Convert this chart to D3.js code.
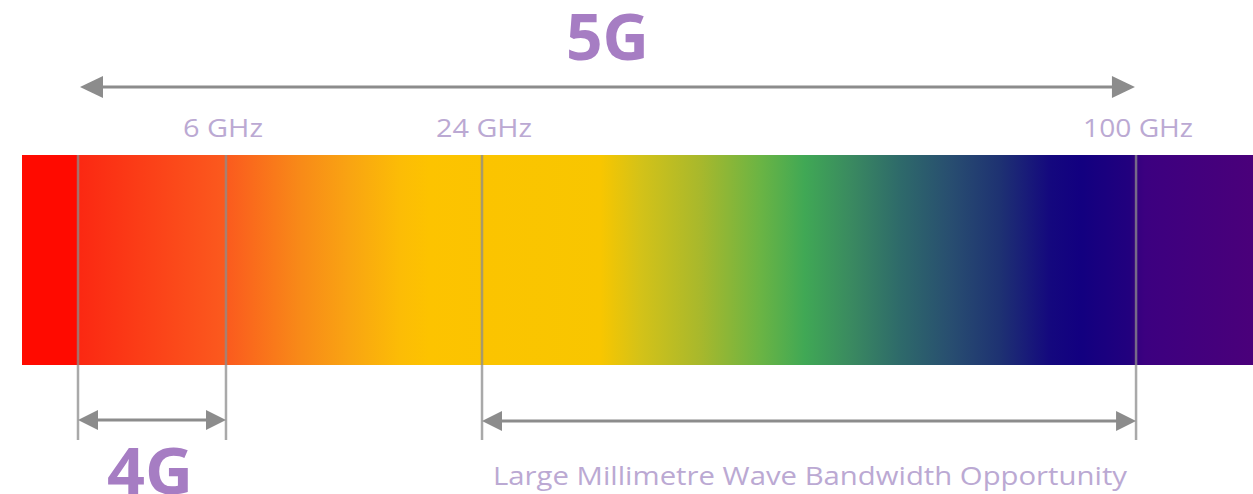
<!DOCTYPE html>
<html>
<head>
<meta charset="utf-8">
<script src="https://cdn.jsdelivr.net/npm/d3@7"></script>
<style>
  body { margin: 0; background: #fff; overflow: hidden; }
  svg { display: block; font-family: "Open Sans", sans-serif; }
</style>
</head>
<body>
<div id="chart"></div>
<script>
// position along the spectrum bar, 0 = left end, 100 = right end
const stopPos = [0, 4.55, 4.6, 16.57, 22.6, 26.6, 30.7, 33.1, 47.0, 50.2, 55.1, 60.0, 63.6, 67.3, 71.3, 75.4, 79.4, 83.5, 86.0, 90.0, 90.5, 91.2, 100];
const stopColors = ["#ff0a00", "#ff0a00", "#fb2812", "#fb5a1e", "#f88a18", "#f9a412", "#fcbc06", "#fdc300", "#f8c600", "#d4c218", "#a8b82c", "#6ab444", "#40a855", "#3a8a60", "#2e6a6a", "#284e70", "#1e3272", "#14087e", "#120080", "#22007e", "#34007e", "#3c0080", "#4a007a"];

// frequency markers
const markerPos = [4.55, 16.57, 37.37, 90.5];
const markerLabels = ["", "6 GHz", "24 GHz", "100 GHz"];

// bands drawn as double arrows
const bandNames = ["5G", "4G", "Large Millimetre Wave Bandwidth Opportunity"];
const bandFrom = [4.71, 4.55, 37.37];
const bandTo = [90.41, 16.57, 90.5];

const width = 1253, height = 494;
const barTop = 155, barBottom = 365;
const grey = "#8c8c8c";

const svg = d3.select("#chart")
  .append("svg")
  .attr("width", width)
  .attr("height", height);

const x = d3.scaleLinear().domain([0, 100]).range([22, 1253]);

// gradient for the spectrum
const grad = svg.append("defs")
  .append("linearGradient")
  .attr("id", "spectrum")
  .attr("gradientUnits", "userSpaceOnUse")
  .attr("x1", x(0)).attr("x2", x(100))
  .attr("y1", 0).attr("y2", 0);

grad.selectAll("stop")
  .data(stopPos)
  .enter()
  .append("stop")
  .attr("offset", d => (x(d) - x(0)) / (x(100) - x(0)))
  .attr("stop-color", (d, i) => stopColors[i]);

svg.append("rect")
  .attr("x", x(0))
  .attr("y", barTop)
  .attr("width", x(100) - x(0))
  .attr("height", barBottom - barTop)
  .attr("fill", "url(#spectrum)");

// marker lines
svg.selectAll(".marker")
  .data(markerPos)
  .enter()
  .append("line")
  .attr("class", "marker")
  .attr("x1", d => x(d)).attr("x2", d => x(d))
  .attr("y1", barTop).attr("y2", 440)
  .attr("stroke", grey)
  .attr("stroke-opacity", 0.75)
  .attr("stroke-width", 2.5);

// marker labels
svg.selectAll(".mlabel")
  .data(markerLabels)
  .enter()
  .append("text")
  .attr("class", "mlabel")
  .attr("x", (d, i) => x(markerPos[i]) + (i === 1 ? -3 : 2))
  .attr("y", 137)
  .attr("text-anchor", "middle")
  .attr("font-size", 26)
  .attr("fill", "#bba9d3")
  .attr("textLength", d => ({"6 GHz": 80, "24 GHz": 96, "100 GHz": 110})[d] || null)
  .attr("lengthAdjust", "spacingAndGlyphs")
  .text(d => d);

// double arrows
function arrow(x1, x2, y, head, half) {
  const g = svg.append("g");
  g.append("line")
    .attr("x1", x1 + head - 2).attr("x2", x2 - head + 2)
    .attr("y1", y).attr("y2", y)
    .attr("stroke", grey).attr("stroke-width", 3);
  g.append("path")
    .attr("d", `M${x1},${y}L${x1 + head},${y - half}L${x1 + head},${y + half}Z`)
    .attr("fill", grey);
  g.append("path")
    .attr("d", `M${x2},${y}L${x2 - head},${y - half}L${x2 - head},${y + half}Z`)
    .attr("fill", grey);
}

const bandY = [87, 420, 421];
bandNames.forEach((name, i) => {
  arrow(x(bandFrom[i]), x(bandTo[i]), bandY[i], i === 0 ? 23 : 20, i === 0 ? 11 : 10);
});

// band titles
svg.append("text")
  .attr("x", (x(bandFrom[0]) + x(bandTo[0])) / 2)
  .attr("y", 60)
  .attr("text-anchor", "middle")
  .attr("font-size", 64)
  .attr("font-weight", "bold")
  .attr("fill", "#a67dc3")
  .attr("textLength", 83)
  .attr("lengthAdjust", "spacingAndGlyphs")
  .text(bandNames[0]);

svg.append("text")
  .attr("x", (x(bandFrom[1]) + x(bandTo[1])) / 2 - 2)
  .attr("y", 494)
  .attr("text-anchor", "middle")
  .attr("font-size", 64)
  .attr("font-weight", "bold")
  .attr("fill", "#a67dc3")
  .attr("textLength", 86)
  .attr("lengthAdjust", "spacingAndGlyphs")
  .text(bandNames[1]);

svg.append("text")
  .attr("x", (x(bandFrom[2]) + x(bandTo[2])) / 2 + 1)
  .attr("y", 485)
  .attr("text-anchor", "middle")
  .attr("font-size", 25)
  .attr("fill", "#bba9d3")
  .attr("textLength", 634)
  .attr("lengthAdjust", "spacingAndGlyphs")
  .text(bandNames[2]);
</script>
</body>
</html>
